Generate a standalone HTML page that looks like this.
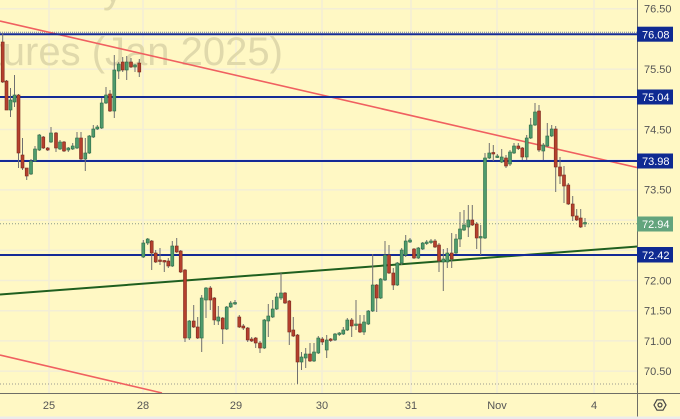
<!DOCTYPE html>
<html><head><meta charset="utf-8"><style>
html,body{margin:0;padding:0;background:#fff8c4;}
svg{display:block;}
text{font-family:"Liberation Sans",sans-serif;}
</style></head><body>
<svg width="680" height="419" viewBox="0 0 680 419" xmlns="http://www.w3.org/2000/svg">
<rect x="0" y="0" width="680" height="419" fill="#fff8c4"/>
<!-- grid -->
<g stroke="#f3eed6" stroke-width="1.5">
<line x1="0" y1="8.7" x2="637" y2="8.7"/><line x1="0" y1="39" x2="637" y2="39"/><line x1="0" y1="69.1" x2="637" y2="69.1"/><line x1="0" y1="99.3" x2="637" y2="99.3"/><line x1="0" y1="129.5" x2="637" y2="129.5"/><line x1="0" y1="159.7" x2="637" y2="159.7"/><line x1="0" y1="189.9" x2="637" y2="189.9"/><line x1="0" y1="220.1" x2="637" y2="220.1"/><line x1="0" y1="250.3" x2="637" y2="250.3"/><line x1="0" y1="280.5" x2="637" y2="280.5"/><line x1="0" y1="310.7" x2="637" y2="310.7"/><line x1="0" y1="340.9" x2="637" y2="340.9"/><line x1="0" y1="371.1" x2="637" y2="371.1"/>
<line x1="49" y1="0" x2="49" y2="393"/><line x1="143" y1="0" x2="143" y2="393"/><line x1="236" y1="0" x2="236" y2="393"/><line x1="322" y1="0" x2="322" y2="393"/><line x1="411" y1="0" x2="411" y2="393"/><line x1="497" y1="0" x2="497" y2="393"/><line x1="594" y1="0" x2="594" y2="393"/>
</g>
<!-- watermark -->
<text x="103" y="2" font-size="40" fill="#e0d9ab">y</text>
<text x="-55" y="65" font-size="40" fill="#e0d9ab">Futures (Jan 2025)</text>
<!-- dotted lines -->
<line x1="0" y1="384" x2="637" y2="384" stroke="#9a9a90" stroke-width="1" stroke-dasharray="1,2"/>
<line x1="0" y1="223.7" x2="637" y2="223.7" stroke="#8a9a88" stroke-width="1" stroke-dasharray="1,2"/>
<line x1="0" y1="32.3" x2="637" y2="32.3" stroke="#6a7aa8" stroke-width="1" stroke-dasharray="1,1"/>
<!-- trend lines -->
<line x1="0" y1="21" x2="637" y2="167.5" stroke="#f06060" stroke-width="1.6"/>
<line x1="0" y1="355" x2="162" y2="393" stroke="#f06060" stroke-width="1.6"/>
<line x1="0" y1="294.5" x2="637" y2="246.5" stroke="#1f5f1f" stroke-width="2"/>
<!-- horizontal levels -->
<g stroke="#142a96" stroke-width="2">
<line x1="0" y1="34.2" x2="637" y2="34.2"/>
<line x1="0" y1="97" x2="637" y2="97"/>
<line x1="0" y1="161" x2="637" y2="161"/>
<line x1="0" y1="255" x2="637" y2="255"/>
</g>
<!-- wicks -->
<path fill="none" stroke="#707070" stroke-width="1" d="
M2.7 33V83M6.5 80V110M10.5 88V117M14.5 75V107M18.5 94V168M22.5 138V170M26.7 168V180M31 159V175M35 146V162M39.3 134V151M43.3 136V149M47.7 147V151M51 127V143M56 132V152M60 140V150M64 141V152M68.3 147V152M72.7 143V150M77 132V149M81 132V160M85.3 138V171M89.3 135V154M93.3 125V138M97.3 125V130M101.7 98V129M106 87V104M110 90V112M114.3 55V118M118.7 62V79M122.7 57V72M126.7 56V80M131 58V68M135 64V72M139.3 59V77
M143.3 240V258M147.7 238V245M151.7 240V270M155.7 250V263M160 248V265M164.3 260V272M168.3 258V268M172.3 241V267M176.7 238V253M180.7 250V273M185 269V342M189.3 320V340M193.7 305V328M197.7 317V339M201.7 295V352M206 287V318M210.3 286V310M214.3 297V325M218.3 306V325M222.7 317V344M226.7 306V330M230.7 301V308M235 300V305
M239.3 315V328M243.3 324V330M247.7 327V342M251.7 337V342M255.7 337V348M260 341V353M264.3 319V349M268.3 304V337M272.7 300V318M276.7 293V310M281 273V300M285 292V304M289.3 300V345M293.3 317V337M297.5 334V384M301.5 352V370M305.7 348V368M310 343V362M314 343V362M318.3 336V354
M322.3 337V345M326.7 335V358M330.7 338V342M335 333V341M339.3 332V336M343.3 327V335M347.3 318V331M351.7 318V337M356 300V330M360 315V333M364 315V335M368.3 310V325M372.7 254V312M376.7 284V312M380.7 278V299M385 241V281M389 245V274M393.3 268V290M397.3 262V286M401.7 248V265M405.7 235V257M410 238V243
M414 248V259M418.3 247V259M422.7 242V250M426.7 240V245M431 239V244M435 239V248M439 243V272M443.3 249V291M447.3 248V268M451.7 233V268M456 234V254M460 212V247M464 210V231M468.3 205V237M472.3 205V226M476.7 222V249M480.7 225V255M485 153V239M489.3 143V159M493.3 145V161M497.3 154V158M501.7 149V163M506 155V168M510 150V166M514 143V154M518.3 143V150M522.3 147V160M526.7 135V160M530.7 118V139M535 103V126M539 105V152M543.3 143V160M547.3 123V147M551.7 125V137M555.7 126V192M560 157V184M564 166V203M568.3 183V205M572.7 196V221M576.7 209V221M580.7 209V228M585 218V227"/>
<!-- green bodies -->
<g fill="#4f9b6c" stroke="#2e6a47" stroke-width="0.6">
<rect x="9" y="100" width="3" height="10"/><rect x="13" y="95" width="3" height="7"/><rect x="29.5" y="161" width="3" height="13"/><rect x="33.5" y="149" width="3" height="12"/><rect x="37.8" y="135" width="3" height="15"/><rect x="49.5" y="133" width="3" height="9"/><rect x="58.5" y="142" width="3" height="7"/><rect x="66.8" y="148" width="3" height="2"/><rect x="71.2" y="146" width="3" height="3"/><rect x="75.5" y="138" width="3" height="10"/><rect x="83.8" y="153" width="3" height="6"/><rect x="87.8" y="136" width="3" height="17"/><rect x="91.8" y="129" width="3" height="8"/><rect x="95.8" y="127" width="3" height="2"/><rect x="100.2" y="103" width="3" height="25"/><rect x="104.5" y="95" width="3" height="8"/><rect x="112.8" y="70" width="3" height="41"/><rect x="117.2" y="64" width="3" height="7"/><rect x="125.2" y="62" width="3" height="8"/><rect x="133.5" y="65" width="3" height="2"/>
<rect x="141.8" y="243" width="3" height="14"/><rect x="146.2" y="239" width="3" height="4"/><rect x="170.8" y="246" width="3" height="20"/><rect x="187.8" y="321" width="3" height="17"/><rect x="200.2" y="298" width="3" height="40"/><rect x="204.5" y="288" width="3" height="12"/><rect x="216.8" y="317" width="3" height="4"/><rect x="225.2" y="307" width="3" height="22"/><rect x="229.2" y="303" width="3" height="4"/><rect x="233.5" y="302.5" width="3" height="1.5"/>
<rect x="262.8" y="320" width="3" height="28"/><rect x="266.8" y="316" width="3" height="5"/><rect x="271.2" y="309" width="3" height="8"/><rect x="275.2" y="297" width="3" height="12"/><rect x="279.5" y="293" width="3" height="5"/><rect x="300" y="357" width="3" height="5"/><rect x="304.2" y="354" width="3" height="4"/><rect x="312.5" y="352" width="3" height="9"/><rect x="316.8" y="338" width="3" height="15"/>
<rect x="325.2" y="340" width="3" height="10"/><rect x="333.5" y="334" width="3" height="6"/><rect x="337.8" y="333" width="3" height="1.5"/><rect x="341.8" y="330" width="3" height="4"/><rect x="345.8" y="320" width="3" height="10"/><rect x="354.5" y="324" width="3" height="1.5"/><rect x="362.5" y="322" width="3" height="10"/><rect x="366.8" y="311" width="3" height="13"/><rect x="371.2" y="285" width="3" height="26"/><rect x="379.2" y="279" width="3" height="19"/><rect x="383.5" y="255" width="3" height="25"/><rect x="395.8" y="263" width="3" height="22"/><rect x="400.2" y="250" width="3" height="13"/><rect x="404.2" y="241" width="3" height="14"/><rect x="408.5" y="240" width="3" height="2"/>
<rect x="416.8" y="248" width="3" height="10"/><rect x="421.2" y="243" width="3" height="6"/><rect x="425.2" y="242" width="3" height="1.5"/><rect x="429.5" y="241" width="3" height="1.5"/><rect x="441.8" y="259" width="3" height="3"/><rect x="445.8" y="253" width="3" height="9"/><rect x="454.5" y="239" width="3" height="14"/><rect x="458.5" y="229" width="3" height="10"/><rect x="462.5" y="225" width="3" height="5"/><rect x="466.8" y="220" width="3" height="7"/><rect x="479.2" y="236.5" width="3" height="1.5"/><rect x="483.5" y="158" width="3" height="80"/><rect x="487.8" y="153" width="3" height="5"/><rect x="495.8" y="156" width="3" height="1.5"/><rect x="500.2" y="157" width="3" height="5"/><rect x="508.5" y="152" width="3" height="12"/><rect x="512.5" y="146" width="3" height="7"/><rect x="525.2" y="138" width="3" height="19"/><rect x="529.2" y="125" width="3" height="13"/><rect x="533.5" y="112" width="3" height="13"/><rect x="541.8" y="145" width="3" height="6"/><rect x="545.8" y="136" width="3" height="10"/><rect x="550.2" y="129" width="3" height="7"/><rect x="583.5" y="222.5" width="3" height="1.5"/>
</g>
<!-- red bodies -->
<g fill="#b5402d" stroke="#7a2a1e" stroke-width="0.6">
<rect x="1.2" y="42" width="3" height="40"/><rect x="5" y="81" width="3" height="29"/><rect x="17" y="95" width="3" height="58"/><rect x="21" y="155" width="3" height="13"/><rect x="25.2" y="168" width="3" height="8"/><rect x="41.8" y="137" width="3" height="11"/><rect x="46.2" y="148" width="3" height="2"/><rect x="54.5" y="133" width="3" height="15"/><rect x="62.5" y="142" width="3" height="9"/><rect x="79.5" y="138" width="3" height="21"/><rect x="108.5" y="94" width="3" height="17"/><rect x="121.2" y="62" width="3" height="8"/><rect x="129.5" y="62" width="3" height="5"/><rect x="137.8" y="63" width="3" height="9"/>
<rect x="150.2" y="241" width="3" height="12"/><rect x="154.2" y="253" width="3" height="9"/><rect x="158.5" y="260" width="3" height="1.5"/><rect x="162.8" y="260.5" width="3" height="1.5"/><rect x="166.8" y="261" width="3" height="5"/><rect x="175.2" y="246" width="3" height="6"/><rect x="179.2" y="251" width="3" height="21"/><rect x="183.5" y="270" width="3" height="68"/><rect x="192.2" y="321" width="3" height="6"/><rect x="196.2" y="327" width="3" height="11"/><rect x="208.8" y="288" width="3" height="12"/><rect x="212.8" y="298" width="3" height="22"/><rect x="221.2" y="318" width="3" height="11"/>
<rect x="237.8" y="317" width="3" height="10"/><rect x="241.8" y="326" width="3" height="2"/><rect x="246.2" y="328" width="3" height="12"/><rect x="250.2" y="339" width="3" height="2"/><rect x="254.2" y="338" width="3" height="5"/><rect x="258.5" y="343" width="3" height="5"/><rect x="283.5" y="293" width="3" height="10"/><rect x="287.8" y="301" width="3" height="31"/><rect x="291.8" y="330" width="3" height="6"/><rect x="296" y="335" width="3" height="27"/><rect x="308.5" y="354" width="3" height="7"/>
<rect x="320.8" y="339" width="3" height="3"/><rect x="329.2" y="339" width="3" height="1.5"/><rect x="350.2" y="320" width="3" height="6"/><rect x="358.5" y="324" width="3" height="8"/><rect x="375.2" y="285" width="3" height="13"/><rect x="387.5" y="255" width="3" height="18"/><rect x="391.8" y="273" width="3" height="12"/>
<rect x="412.5" y="249" width="3" height="9"/><rect x="433.5" y="241" width="3" height="6"/><rect x="437.5" y="245" width="3" height="16"/><rect x="450.2" y="253" width="3" height="6"/><rect x="470.8" y="220" width="3" height="5"/><rect x="475.2" y="224" width="3" height="14"/><rect x="491.8" y="152.5" width="3" height="1.5"/><rect x="504.5" y="158" width="3" height="8"/><rect x="516.8" y="146" width="3" height="2.5"/><rect x="520.8" y="148" width="3" height="9"/><rect x="537.5" y="111" width="3" height="39"/><rect x="554.2" y="129" width="3" height="38"/><rect x="558.5" y="167" width="3" height="9"/><rect x="562.5" y="175" width="3" height="11"/><rect x="566.8" y="185" width="3" height="19"/><rect x="571.2" y="204" width="3" height="12"/><rect x="575.2" y="216" width="3" height="4"/><rect x="579.2" y="218" width="3" height="9"/>
</g>
<!-- axis area -->
<rect x="637" y="0" width="43" height="419" fill="#fff8c4"/>
<rect x="0" y="393" width="680" height="26" fill="#fff8c4"/>
<line x1="637.5" y1="0" x2="637.5" y2="419" stroke="#6e6e66" stroke-width="1"/>
<line x1="0" y1="393.5" x2="680" y2="393.5" stroke="#6e6e66" stroke-width="1"/>
<rect x="0" y="416.5" width="680" height="2.5" fill="#ececec"/>
<g font-size="11" fill="#555" text-anchor="start">
<text x="644" y="12.5">76.50</text>
<text x="644" y="73">75.50</text>
<text x="644" y="133.5">74.50</text>
<text x="644" y="193.5">73.50</text>
<text x="644" y="284.5">72.00</text>
<text x="644" y="314.5">71.50</text>
<text x="644" y="345">71.00</text>
<text x="644" y="375">70.50</text>
</g>
<g font-size="11" fill="#fff">
<rect x="637" y="26.7" width="36" height="15" fill="#0f2a92"/><text x="642" y="38.3">76.08</text>
<rect x="637" y="89.5" width="36" height="15" fill="#0f2a92"/><text x="642" y="101">75.04</text>
<rect x="637" y="153.5" width="36" height="15" fill="#0f2a92"/><text x="642" y="165">73.98</text>
<rect x="637" y="216.5" width="36" height="15" fill="#63a47d"/><text x="642" y="228">72.94</text>
<rect x="637" y="247" width="36" height="15.5" fill="#0f2a92"/><text x="642" y="258.8">72.42</text>
</g>
<g font-size="11" fill="#555" text-anchor="middle">
<text x="49" y="409">25</text>
<text x="143" y="409">28</text>
<text x="236" y="409">29</text>
<text x="322" y="409">30</text>
<text x="411" y="409">31</text>
<text x="497" y="409">Nov</text>
<text x="594" y="409">4</text>
</g>
<polygon points="654,405 657,399.8 663,399.8 666,405 663,410.2 657,410.2" fill="none" stroke="#444" stroke-width="1.2"/>
<circle cx="660" cy="405" r="2" fill="none" stroke="#444" stroke-width="1.2"/>
</svg>
</body></html>
